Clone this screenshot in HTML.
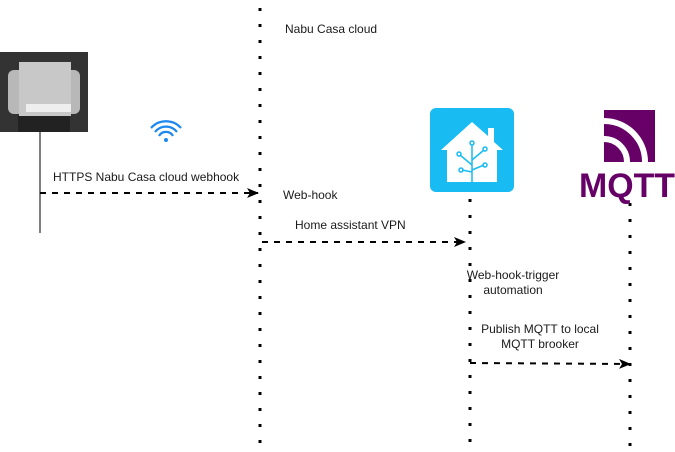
<!DOCTYPE html>
<html><head><meta charset="utf-8"><style>
html,body{margin:0;padding:0;background:#fff;width:675px;height:452px;overflow:hidden}
svg text{font-family:"Liberation Sans",Arial,sans-serif;font-size:12px;fill:#1a1a1a}
</style></head><body>
<svg width="675" height="452" viewBox="0 0 675 452" xmlns="http://www.w3.org/2000/svg">
<defs>
<marker id="ah" markerWidth="12" markerHeight="10" refX="11" refY="5" orient="auto" markerUnits="userSpaceOnUse">
<path d="M0,0 L12,5 L0,10 L3,5 Z" fill="#000"/></marker>
<clipPath id="mq"><rect x="604" y="110" width="51" height="52"/></clipPath>
</defs>
<line x1="260" y1="8" x2="260" y2="446" stroke="#000" stroke-width="3" stroke-dasharray="3 13"/>
<line x1="470" y1="199" x2="470" y2="446" stroke="#000" stroke-width="3" stroke-dasharray="3 13"/>
<line x1="630" y1="203" x2="630" y2="446" stroke="#000" stroke-width="3" stroke-dasharray="3 13"/>
<line x1="40" y1="132" x2="40" y2="233" stroke="#000" stroke-width="1"/>
<!-- device image -->
<rect x="0" y="52" width="88" height="80" fill="#333"/>
<rect x="8" y="70" width="72" height="44" rx="6" fill="#b8b8b8"/>
<rect x="19" y="62" width="52" height="54" fill="#c8c8c8"/>
<rect x="26" y="104" width="45" height="8" fill="#eee"/>
<rect x="18" y="116" width="52" height="16" fill="#222"/>
<!-- wifi -->
<g fill="none" stroke="#1e88f0" stroke-width="2.2">
<path d="M151,128 A20,20 0 0 1 181,128"/>
<path d="M155,132 A14,14 0 0 1 177,132"/>
<path d="M159,136 A8,8 0 0 1 173,136"/>
</g>
<circle cx="166" cy="140" r="2" fill="#1e88f0"/>
<!-- HA icon -->
<rect x="430" y="108" width="84" height="84" rx="6" fill="#18bcf2"/>
<path d="M441,150 L472,122 L488,136 L488,128 L494,128 L494,142 L503,150 L497,150 L497,182 L447,182 L447,150 Z" fill="#fff"/>
<g stroke="#18bcf2" stroke-width="1.5" fill="none">
<path d="M472,182 L472,145 M472,165 L460,155 M472,160 L484,150 M472,172 L462,170 M472,170 L484,165"/>
<circle cx="472" cy="143" r="2"/><circle cx="459" cy="154" r="2"/><circle cx="485" cy="149" r="2"/><circle cx="461" cy="170" r="2"/><circle cx="485" cy="165" r="2"/>
</g>
<!-- MQTT -->
<g clip-path="url(#mq)">
<rect x="604" y="110" width="51" height="52" fill="#660066"/>
<circle cx="604" cy="162" r="23" fill="none" stroke="#fff" stroke-width="6"/>
<circle cx="604" cy="162" r="41" fill="none" stroke="#fff" stroke-width="6"/>
</g>
<text x="579" y="197" style="font-size:34px;font-weight:bold;fill:#660066" textLength="96" lengthAdjust="spacingAndGlyphs">MQTT</text>
<!-- arrows -->
<line x1="40" y1="193" x2="258" y2="193" stroke="#000" stroke-width="2" stroke-dasharray="6 6" marker-end="url(#ah)"/>
<line x1="262" y1="242" x2="465" y2="242" stroke="#000" stroke-width="2" stroke-dasharray="6 6" marker-end="url(#ah)"/>
<line x1="470" y1="363" x2="630" y2="364" stroke="#000" stroke-width="2" stroke-dasharray="6 6" marker-end="url(#ah)"/>
<text x="285" y="33">Nabu Casa cloud</text>
<text x="53" y="181">HTTPS Nabu Casa cloud webhook</text>
<text x="283" y="199">Web-hook</text>
<text x="295" y="229">Home assistant VPN</text>
<text x="513" y="279" text-anchor="middle">Web-hook-trigger</text>
<text x="513" y="294" text-anchor="middle">automation</text>
<text x="540" y="333" text-anchor="middle">Publish MQTT to local</text>
<text x="540" y="348" text-anchor="middle">MQTT brooker</text>
</svg>
</body></html>
